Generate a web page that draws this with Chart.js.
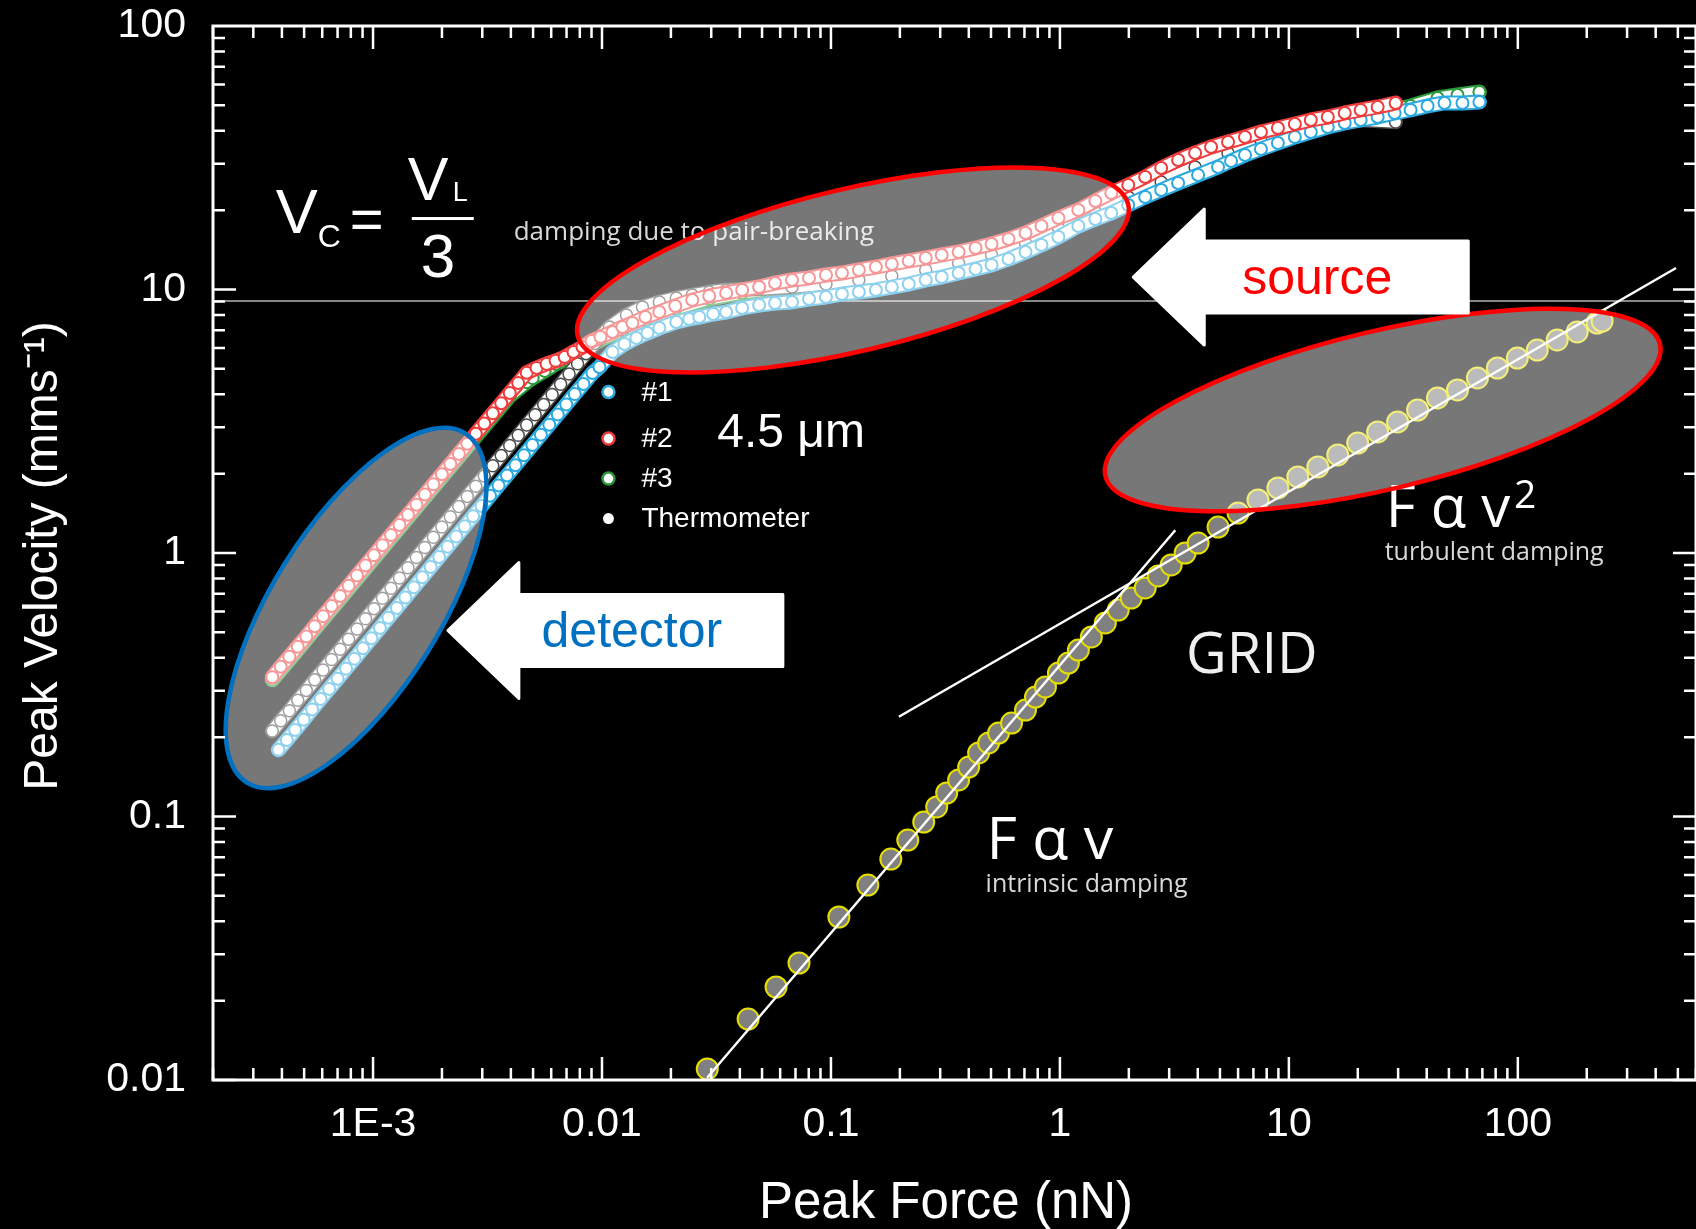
<!DOCTYPE html>
<html>
<head>
<meta charset="utf-8">
<title>Peak Velocity vs Peak Force</title>
<script src="https://cdn.jsdelivr.net/npm/chart.js@4.4.1/dist/chart.umd.min.js"></script>
<style>
  html, body { margin: 0; padding: 0; background: #000; }
  #wrap { width: 1696px; height: 1229px; }
</style>
</head>
<body>
<div id="wrap"><canvas id="chart" width="1696" height="1229"></canvas></div>
<script>
// 軸の範囲と目盛り
const xMin = 2e-4;
const xMax = 600;
const yMin = 0.01;
const yMax = 100;
const xTickValues = [0.001, 0.01, 0.1, 1, 10, 100];
const xTickLabels = ["1E-3", "0.01", "0.1", "1", "10", "100"];
const yTickValues = [0.01, 0.1, 1, 10, 100];
const yTickLabels = ["0.01", "0.1", "1", "10", "100"];

// 系列データ [Peak Force (nN), Peak Velocity (mm/s)]
const series1 = [
  [3.86e-4, 0.179], [4.2e-4, 0.195], [4.57e-4, 0.213], [4.98e-4, 0.233], [5.42e-4, 0.255],
  [5.9e-4, 0.279], [6.43e-4, 0.305], [7.0e-4, 0.333], [7.62e-4, 0.364], [8.3e-4, 0.397],
  [9.04e-4, 0.435], [9.84e-4, 0.475], [1.072e-3, 0.519], [1.167e-3, 0.568], [1.271e-3, 0.619],
  [1.384e-3, 0.678], [1.507e-3, 0.741], [1.641e-3, 0.809], [1.786e-3, 0.885], [1.945e-3, 0.966],
  [2.118e-3, 1.057], [2.307e-3, 1.156], [2.512e-3, 1.262], [2.735e-3, 1.38], [2.979e-3, 1.507],
  [3.243e-3, 1.648], [3.532e-3, 1.803], [3.846e-3, 1.968], [4.188e-3, 2.153], [4.56e-3, 2.35],
  [4.966e-3, 2.57], [5.408e-3, 2.812], [5.888e-3, 3.069], [6.412e-3, 3.357], [6.982e-3, 3.664],
  [7.603e-3, 4.009], [8.3e-3, 4.38], [9.09e-3, 4.82], [9.75e-3, 5.08], [1.111e-2, 5.79],
  [1.253e-2, 6.21], [1.413e-2, 6.55], [1.579e-2, 6.84], [1.78e-2, 7.14], [2.112e-2, 7.53],
  [2.405e-2, 7.73], [2.66e-2, 7.86], [3.06e-2, 8.07], [3.486e-2, 8.21], [4.094e-2, 8.51],
  [4.856e-2, 8.73], [5.7e-2, 8.89], [6.76e-2, 8.97], [8.02e-2, 9.2], [9.51e-2, 9.37],
  [0.1117, 9.61], [0.1324, 9.78], [0.1571, 9.96], [0.1844, 10.22], [0.2187, 10.49],
  [0.2594, 10.87], [0.3046, 11.15], [0.3611, 11.55], [0.4283, 11.96], [0.503, 12.39],
  [0.5964, 13.05], [0.7075, 13.88], [0.8306, 14.76], [0.985, 15.82], [1.204, 17.42],
  [1.428, 18.52], [1.676, 19.51], [1.988, 20.93], [2.358, 22.44], [2.769, 23.85],
  [3.283, 25.36], [4.013, 27.2], [4.905, 29.17], [5.589, 30.74], [6.433, 32.39],
  [7.551, 34.14], [8.956, 35.97], [10.62, 37.91], [12.47, 39.61], [14.79, 41.38],
  [17.54, 42.85], [20.59, 43.99], [24.42, 45.15], [28.96, 46.76], [34.01, 48.0],
  [40.34, 49.71], [47.83, 51.03], [57.3, 51.03], [67.96, 51.47]
];

const series2 = [
  [3.63e-4, 0.338], [3.95e-4, 0.37], [4.31e-4, 0.404], [4.69e-4, 0.441], [5.11e-4, 0.482],
  [5.56e-4, 0.527], [6.05e-4, 0.576], [6.59e-4, 0.629], [7.18e-4, 0.687], [7.82e-4, 0.751],
  [8.51e-4, 0.821], [9.27e-4, 0.897], [1.009e-3, 0.98], [1.1e-3, 1.071], [1.198e-3, 1.17],
  [1.305e-3, 1.278], [1.421e-3, 1.397], [1.547e-3, 1.526], [1.684e-3, 1.667], [1.835e-3, 1.822],
  [1.998e-3, 1.991], [2.176e-3, 2.175], [2.37e-3, 2.377], [2.58e-3, 2.597], [2.811e-3, 2.837],
  [3.061e-3, 3.1], [3.334e-3, 3.388], [3.631e-3, 3.701], [3.954e-3, 4.045], [4.306e-3, 4.419],
  [4.69e-3, 4.829], [5.18e-3, 5.04], [5.73e-3, 5.22], [6.27e-3, 5.36], [6.87e-3, 5.54],
  [7.51e-3, 5.79], [8.22e-3, 6.05], [9.0e-3, 6.38], [9.85e-3, 6.6], [1.111e-2, 6.9],
  [1.228e-2, 7.21], [1.358e-2, 7.46], [1.547e-2, 7.86], [1.78e-2, 8.21], [2.09e-2, 8.66],
  [2.479e-2, 9.12], [2.94e-2, 9.45], [3.486e-2, 9.7], [4.094e-2, 9.96], [4.856e-2, 10.22],
  [5.7e-2, 10.58], [6.76e-2, 10.87], [8.02e-2, 11.06], [9.51e-2, 11.35], [0.1117, 11.55],
  [0.1324, 11.86], [0.1571, 12.17], [0.1844, 12.5], [0.2187, 12.83], [0.2594, 13.17],
  [0.3046, 13.52], [0.3611, 13.88], [0.4283, 14.37], [0.503, 14.88], [0.5964, 15.55],
  [0.7075, 16.38], [0.8306, 17.42], [0.985, 18.67], [1.204, 20.03], [1.428, 21.67],
  [1.676, 23.24], [1.988, 24.93], [2.358, 26.73], [2.769, 28.91], [3.283, 31.01],
  [3.894, 32.96], [4.572, 34.74], [5.423, 36.29], [6.433, 37.91], [7.551, 39.61],
  [8.956, 41.02], [10.62, 42.48], [12.47, 43.99], [14.79, 45.15], [17.54, 46.76],
  [20.59, 48.0], [24.42, 49.28], [29.26, 51.03]
];

const series3 = [
  [3.63e-4, 0.33], [4.31e-4, 0.393], [5.11e-4, 0.47], [6.05e-4, 0.561], [7.18e-4, 0.669],
  [8.51e-4, 0.799], [1.009e-3, 0.954], [1.198e-3, 1.14], [1.421e-3, 1.361], [1.684e-3, 1.624],
  [1.998e-3, 1.939], [2.37e-3, 2.315], [2.811e-3, 2.763], [3.334e-3, 3.3], [3.954e-3, 3.94],
  [4.69e-3, 4.45], [4.98e-3, 4.61], [5.62e-3, 4.91], [6.27e-3, 5.22], [6.87e-3, 5.4],
  [7.51e-3, 5.64], [8.22e-3, 5.89], [9.85e-3, 6.43], [1.228e-2, 7.02], [1.547e-2, 7.66],
  [2.09e-2, 8.44], [2.94e-2, 9.2], [4.094e-2, 9.7], [6.76e-2, 10.22], [9.51e-2, 10.49],
  [0.1324, 10.87], [0.1844, 11.25], [0.2594, 11.86], [0.3611, 12.61], [0.503, 13.52],
  [0.7075, 15.01], [0.985, 17.12], [1.428, 19.68], [1.988, 22.44], [2.769, 25.59],
  [3.894, 29.17], [5.423, 32.96], [7.551, 36.93], [10.62, 40.31], [17.54, 45.54],
  [24.42, 46.34], [34.01, 49.71], [44.59, 53.33], [54.51, 54.73], [67.96, 56.18]
];

const thermometer = [
  [3.63e-4, 0.211], [3.95e-4, 0.231], [4.31e-4, 0.252], [4.69e-4, 0.276], [5.11e-4, 0.301],
  [5.56e-4, 0.33], [6.05e-4, 0.36], [6.59e-4, 0.394], [7.18e-4, 0.431], [7.82e-4, 0.471],
  [8.52e-4, 0.515], [9.28e-4, 0.563], [1.01e-3, 0.615], [1.1e-3, 0.673], [1.198e-3, 0.735],
  [1.305e-3, 0.804], [1.421e-3, 0.879], [1.547e-3, 0.961], [1.684e-3, 1.05], [1.835e-3, 1.148],
  [1.998e-3, 1.255], [2.176e-3, 1.372], [2.37e-3, 1.5], [2.58e-3, 1.64], [2.811e-3, 1.792],
  [3.061e-3, 1.959], [3.334e-3, 2.142], [3.631e-3, 2.342], [3.954e-3, 2.56], [4.306e-3, 2.799],
  [4.69e-3, 3.06], [5.107e-3, 3.345], [5.562e-3, 3.657], [6.056e-3, 3.998], [6.596e-3, 4.371],
  [7.182e-3, 4.778], [7.821e-3, 5.224], [8.518e-3, 5.71], [9.278e-3, 6.242], [1.078e-2, 7.21],
  [1.279e-2, 8.0], [1.502e-2, 8.58], [1.78e-2, 8.97], [2.112e-2, 9.29], [2.479e-2, 9.53],
  [2.94e-2, 9.78], [3.486e-2, 9.96], [4.856e-2, 10.04], [6.76e-2, 10.22], [9.51e-2, 10.49],
  [0.1324, 10.87], [0.1844, 11.25], [0.2594, 11.86], [0.3611, 12.61], [0.503, 13.52],
  [0.7075, 15.01], [0.985, 17.12], [1.428, 19.68], [1.988, 22.44], [2.769, 25.59],
  [3.894, 29.17], [5.423, 32.96], [7.551, 36.93], [10.62, 40.31], [14.79, 42.85],
  [20.59, 43.99], [29.26, 43.23]
];

const grid = [
  [2.883e-2, 0.01101], [4.347e-2, 0.01704], [5.758e-2, 0.02254], [7.253e-2, 0.0278], [0.1083, 0.04155],
  [0.1449, 0.05495], [0.1826, 0.06897], [0.2165, 0.08142], [0.2542, 0.0953], [0.2896, 0.1087],
  [0.3202, 0.1228], [0.3611, 0.1376], [0.3994, 0.1541], [0.4415, 0.1742], [0.4882, 0.1901],
  [0.5395, 0.2074], [0.6148, 0.2263], [0.7075, 0.2535], [0.7821, 0.2841], [0.8647, 0.3101],
  [0.985, 0.3504], [1.089, 0.3824], [1.204, 0.4283], [1.372, 0.48], [1.579, 0.5425],
  [1.798, 0.6076], [2.049, 0.6749], [2.358, 0.7367], [2.687, 0.818], [3.061, 0.9006],
  [3.523, 1.0], [4.013, 1.091], [4.905, 1.255], [5.996, 1.418], [7.329, 1.589],
  [8.956, 1.765], [10.94, 1.943], [13.38, 2.121], [16.35, 2.355], [19.98, 2.615],
  [24.42, 2.879], [29.85, 3.142], [36.49, 3.489], [44.59, 3.875], [54.51, 4.156],
  [66.61, 4.615], [81.42, 5.036], [99.5, 5.495], [121.6, 5.893], [148.6, 6.433],
  [181.7, 6.899], [222.0, 7.462], [233.4, 7.594]
];

// フィット直線と水平線
const fitLinear = [[0.0288, 0.0102], [3.19, 1.22]];
const fitTurbulent = [[0.198, 0.239], [491, 12.07]];
const pairBreakingLevel = [[2e-4, 9.05], [600, 9.05]];

// 注釈（位置はデータ座標）
const ellipses = [
  { x: 0.1247, y: 11.86, rx: 283, ry: 81, angle: -13.4, color: "#ff0000" },
  { x: 25.68, y: 3.489, rx: 285, ry: 79, angle: -13.4, color: "#ff0000" },
  { x: 8.43e-4, y: 0.6184, rx: 206, ry: 84, angle: -58, color: "#0070c0" },
];
const arrows = [
  { x: 2.07, y: 11.15, text: "source", color: "#ff0000" },
  { x: 2.101e-3, y: 0.5081, text: "detector", color: "#0070c0" },
];
const textLabels = [
  { text: "damping due to pair-breaking", x: 4.115e-3, y: 15.41, font: "26px 'Open Sans'", color: "#d9d9d9" },
  { text: "4.5 μm", x: 3.186e-2, y: 2.525, font: "48px 'Liberation Sans'", color: "#ffffff" },
  { text: "F α v", x: 0.4783, y: 0.069, font: "59px 'Open Sans'", color: "#ffffff" },
  { text: "intrinsic damping", x: 0.4735, y: 0.0518, font: "25px 'Open Sans'", color: "#d9d9d9" },
  { text: "F α v", x: 26.47, y: 1.255, font: "58px 'Open Sans'", color: "#ffffff" },
  { text: "2", x: 96.25, y: 1.482, font: "39px 'Open Sans'", color: "#ffffff" },
  { text: "turbulent damping", x: 26.2, y: 0.9406, font: "25px 'Open Sans'", color: "#d9d9d9" },
  { text: "GRID", x: 3.558, y: 0.3504, font: "56px 'Open Sans'", color: "#f0f0f0" },
];
const formulaAnchor = { x: 3.76e-4, y: 16.38 };
const legendAnchor = { x: 1.067e-2, y: 4.083 };
const legendItems = [
  { label: "#1", color: "#2aa9e0", dy: 0 },
  { label: "#2", color: "#ee3b3b", dy: 46.6 },
  { label: "#3", color: "#2a9a3a", dy: 86.6 },
  { label: "Thermometer", color: null, dy: 126.6 },
];

const toPoints = (arr) => arr.map((p) => ({ x: p[0], y: p[1] }));
const sansFont = "'Liberation Sans', Arial, sans-serif";

// 背景
const bgPlugin = {
  id: "bg",
  beforeDraw(chart) {
    const ctx = chart.ctx;
    ctx.save();
    ctx.fillStyle = "#000";
    ctx.fillRect(0, 0, chart.width, chart.height);
    ctx.restore();
  },
};

// 矢印
function drawArrow(ctx, tx, ty) {
  ctx.beginPath();
  ctx.moveTo(tx + 1, ty);
  ctx.lineTo(tx + 72, ty - 68);
  ctx.lineTo(tx + 72, ty - 36);
  ctx.lineTo(tx + 336, ty - 36);
  ctx.lineTo(tx + 336, ty + 36);
  ctx.lineTo(tx + 72, ty + 36);
  ctx.lineTo(tx + 72, ty + 68);
  ctx.closePath();
  ctx.fill();
  ctx.stroke();
}

// 注釈の描画
const annotationPlugin = {
  id: "annotations",
  afterDatasetsDraw(chart) {
    const { ctx, scales } = chart;
    const px = (v) => scales.x.getPixelForValue(v);
    const py = (v) => scales.y.getPixelForValue(v);
    ctx.save();
    ctx.textBaseline = "alphabetic";
    ctx.textAlign = "left";

    textLabels.forEach((t) => {
      ctx.font = t.font;
      ctx.fillStyle = t.color;
      ctx.fillText(t.text, px(t.x), py(t.y));
    });

    // Vc = VL / 3
    const ax = px(formulaAnchor.x);
    const ay = py(formulaAnchor.y);
    ctx.fillStyle = "#fff";
    ctx.font = "63px " + sansFont;
    ctx.fillText("V", ax, ay);
    ctx.font = "32px " + sansFont;
    ctx.fillText("C", ax + 42, ay + 14);
    ctx.font = "58px " + sansFont;
    ctx.fillText("=", ax + 74, ay + 6);
    ctx.font = "61px " + sansFont;
    ctx.fillText("V", ax + 132, ay - 33);
    ctx.font = "27px " + sansFont;
    ctx.fillText("L", ax + 177, ay - 32);
    ctx.fillRect(ax + 136, ay - 16, 62, 3);
    ctx.font = "62px " + sansFont;
    ctx.fillText("3", ax + 145, ay + 44);

    // 凡例
    const lx = px(legendAnchor.x);
    const ly = py(legendAnchor.y);
    ctx.textBaseline = "middle";
    legendItems.forEach((item) => {
      const y = ly + item.dy;
      ctx.beginPath();
      if (item.color) {
        ctx.arc(lx, y, 6, 0, Math.PI * 2);
        ctx.fillStyle = "#fff";
        ctx.fill();
        ctx.lineWidth = 2.5;
        ctx.strokeStyle = item.color;
        ctx.stroke();
      } else {
        ctx.arc(lx, y, 5.5, 0, Math.PI * 2);
        ctx.fillStyle = "#fff";
        ctx.fill();
      }
      ctx.font = "28px " + sansFont;
      ctx.fillStyle = "#fff";
      ctx.fillText(item.label, lx + 33, y + 1);
    });

    // 楕円
    ellipses.forEach((e) => {
      ctx.save();
      ctx.translate(px(e.x), py(e.y));
      ctx.rotate((e.angle * Math.PI) / 180);
      ctx.beginPath();
      ctx.ellipse(0, 0, e.rx, e.ry, 0, 0, Math.PI * 2);
      ctx.fillStyle = "rgba(255, 255, 255, 0.467)";
      ctx.fill();
      ctx.lineWidth = 4.5;
      ctx.strokeStyle = e.color;
      ctx.stroke();
      ctx.restore();
    });

    arrows.forEach((a) => {
      const tx = px(a.x);
      const ty = py(a.y);
      ctx.fillStyle = "#fff";
      ctx.strokeStyle = "#fff";
      ctx.lineWidth = 3;
      ctx.lineJoin = "round";
      drawArrow(ctx, tx, ty);
      ctx.font = "50px " + sansFont;
      ctx.fillStyle = a.color;
      ctx.textAlign = "center";
      ctx.textBaseline = "alphabetic";
      ctx.fillText(a.text, tx + 185, ty + 17);
      ctx.textAlign = "left";
    });
    ctx.restore();
  },
};

// 枠と目盛り（内向き）
const framePlugin = {
  id: "frame",
  afterDraw(chart) {
    const { ctx, chartArea: a, scales } = chart;
    ctx.save();
    ctx.strokeStyle = "#fff";
    ctx.lineWidth = 3;
    ctx.strokeRect(a.left, a.top, a.right - a.left, a.bottom - a.top);
    ctx.lineWidth = 2.5;
    ctx.beginPath();
    for (let e = -4; e <= 2; e++) {
      for (let m = 1; m <= 9; m++) {
        const v = m * Math.pow(10, e);
        if (v < xMin * 0.999 || v > xMax) continue;
        const x = scales.x.getPixelForValue(v);
        const len = m === 1 ? 23 : 12;
        ctx.moveTo(x, a.bottom);
        ctx.lineTo(x, a.bottom - len);
        ctx.moveTo(x, a.top);
        ctx.lineTo(x, a.top + len);
      }
    }
    for (let e = -2; e <= 1; e++) {
      for (let m = 1; m <= 9; m++) {
        const v = m * Math.pow(10, e);
        const y = scales.y.getPixelForValue(v);
        const len = m === 1 ? 23 : 12;
        ctx.moveTo(a.left, y);
        ctx.lineTo(a.left + len, y);
        ctx.moveTo(a.right, y);
        ctx.lineTo(a.right - len, y);
      }
    }
    ctx.stroke();

    // 軸タイトル
    ctx.fillStyle = "#fff";
    ctx.font = "51px " + sansFont;
    ctx.textAlign = "center";
    ctx.textBaseline = "alphabetic";
    ctx.fillText("Peak Force (nN)", 946, 1218);
    ctx.save();
    ctx.translate(57, 556);
    ctx.rotate(-Math.PI / 2);
    ctx.font = "48px " + sansFont;
    ctx.fillText("Peak Velocity (mms\u207B\u00B9)", 0, 0);
    ctx.restore();
    ctx.restore();
  },
};

// 点の系列：縁の線＋白い芯＋点（点が密に重なった見た目）
const seriesSets = (name, data, color, edgeWidth, order) => [
  {
    label: name + " edge",
    data: toPoints(data),
    showLine: true,
    borderColor: color,
    borderWidth: 13 + edgeWidth,
    borderCapStyle: "round",
    borderJoinStyle: "round",
    pointRadius: 0,
    order: order + 0.2,
  },
  {
    label: name + " core",
    data: toPoints(data),
    showLine: true,
    borderColor: "#ffffff",
    borderWidth: 13 - edgeWidth,
    borderCapStyle: "round",
    borderJoinStyle: "round",
    pointRadius: 0,
    order: order + 0.1,
  },
  {
    label: name,
    data: toPoints(data),
    showLine: false,
    pointRadius: 6,
    pointBackgroundColor: "#ffffff",
    pointBorderColor: color,
    pointBorderWidth: edgeWidth,
    backgroundColor: "#ffffff",
    borderColor: color,
    order: order,
  },
];

const lineSet = (label, data, color, width, order) => ({
  label: label,
  data: toPoints(data),
  showLine: true,
  borderColor: color,
  borderWidth: width,
  pointRadius: 0,
  fill: false,
  order: order,
});

const ctx = document.getElementById("chart").getContext("2d");
new Chart(ctx, {
  type: "scatter",
  data: {
    datasets: [
      lineSet("level", pairBreakingLevel, "#b4b4b4", 1.5, 20),
      ...seriesSets("#3", series3, "#2a9a3a", 2, 15),
      ...seriesSets("Thermometer", thermometer, "#4a4a4a", 1.5, 14),
      ...seriesSets("#1", series1, "#2aa9e0", 2, 13),
      ...seriesSets("#2", series2, "#ee3b3b", 2, 12),
      {
        label: "GRID",
        data: toPoints(grid),
        showLine: false,
        pointRadius: 10.5,
        pointBackgroundColor: "#808080",
        pointBorderColor: "#e6e000",
        pointBorderWidth: 2,
        backgroundColor: "#808080",
        borderColor: "#e6e000",
        order: 5,
      },
      lineSet("F α v", fitLinear, "#ffffff", 2.5, 4),
      lineSet("F α v2", fitTurbulent, "#ffffff", 2.5, 3),
    ],
  },
  options: {
    responsive: false,
    animation: false,
    events: [],
    layout: { autoPadding: false, padding: { top: 26, right: -3, bottom: 0, left: 0 } },
    plugins: {
      legend: { display: false },
      tooltip: { enabled: false },
    },
    scales: {
      x: {
        type: "logarithmic",
        position: "bottom",
        min: xMin,
        max: xMax,
        grid: { display: false, drawTicks: false },
        border: { display: false },
        ticks: {
          color: "#fff",
          font: { family: sansFont, size: 41 },
          padding: 20,
          autoSkip: false,
          maxRotation: 0,
          callback: (value, index) => xTickLabels[index],
        },
        afterBuildTicks: (scale) => {
          scale.ticks = xTickValues.map((v) => ({ value: v }));
        },
        afterFit: (scale) => {
          scale.height = 149;
          scale.paddingLeft = 0;
          scale.paddingRight = 0;
        },
      },
      y: {
        type: "logarithmic",
        position: "left",
        min: yMin,
        max: yMax,
        grid: { display: false, drawTicks: false },
        border: { display: false },
        ticks: {
          color: "#fff",
          font: { family: sansFont, size: 41 },
          padding: 27,
          autoSkip: false,
          callback: (value, index) => yTickLabels[index],
        },
        afterBuildTicks: (scale) => {
          scale.ticks = yTickValues.map((v) => ({ value: v }));
        },
        afterFit: (scale) => {
          scale.width = 213;
          scale.paddingTop = 0;
          scale.paddingBottom = 0;
        },
      },
    },
  },
  plugins: [bgPlugin, annotationPlugin, framePlugin],
});
</script>
</body>
</html>
